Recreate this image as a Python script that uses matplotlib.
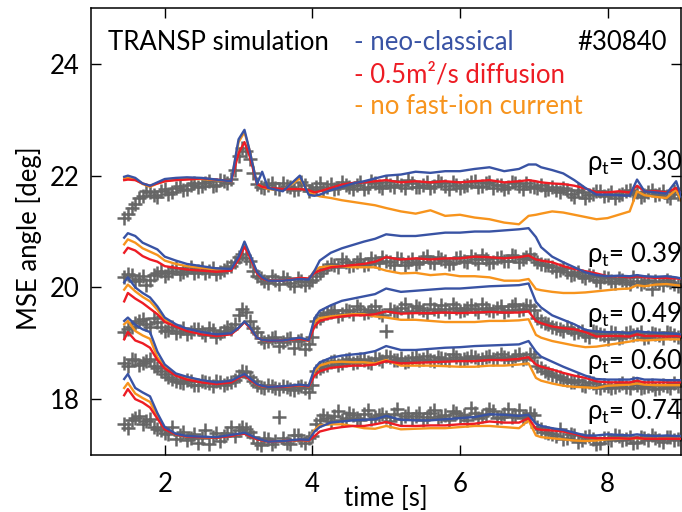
import matplotlib
matplotlib.use("Agg")
import matplotlib.pyplot as plt

plt.rcParams['font.family'] = ['Lato', 'DejaVu Sans']
plt.rcParams['mathtext.fontset'] = 'custom'
plt.rcParams['mathtext.rm'] = 'Lato'
plt.rcParams['mathtext.it'] = 'Lato'

# time base of the TRANSP lines [s]
t_line = [1.45, 1.5, 1.6, 1.7, 1.8, 1.9, 2.0, 2.15, 2.3, 2.5,
          2.7, 2.9, 3.0, 3.08, 3.15, 3.25, 3.32, 3.4, 3.6, 3.83,
          3.95, 4.03, 4.1, 4.25, 4.4, 4.55, 4.7, 4.85, 5.0, 5.2,
          5.4, 5.6, 5.8, 6.0, 6.2, 6.4, 6.6, 6.8, 6.93, 7.03,
          7.1, 7.25, 7.4, 7.55, 7.7, 7.85, 8.0, 8.15, 8.3, 8.4,
          8.5, 8.65, 8.8, 8.93, 9.0]

# rho_t = 0.30
b30 = [21.98, 22.0, 21.96, 21.86, 21.82, 21.88, 21.94, 21.96, 21.97, 21.96,
       21.93, 21.9, 22.65, 22.82, 22.45, 21.85, 22.07, 21.78, 21.72, 22.0,
       21.66, 21.64, 21.66, 21.74, 21.8, 21.86, 21.9, 21.95, 22.0, 22.02,
       22.07, 22.05, 22.08, 22.08, 22.12, 22.15, 22.08, 22.12, 22.2, 22.2,
       22.15, 22.1, 22.04, 21.92, 21.78, 21.66, 21.66, 21.65, 21.64, 21.93,
       21.72, 21.7, 21.68, 21.9, 21.62]
r30 = [21.92, 21.93, 21.92, 21.86, 21.82, 21.86, 21.9, 21.92, 21.93, 21.95,
       21.93, 21.9, 22.4, 22.6, 22.35, 21.85, 21.8, 21.78, 21.76, 21.76,
       21.74, 21.7, 21.72, 21.78, 21.84, 21.87, 21.88, 21.9, 21.92, 21.88,
       21.9, 21.88, 21.9, 21.88, 21.9, 21.92, 21.88, 21.9, 21.92, 21.9,
       21.88, 21.86, 21.85, 21.82, 21.77, 21.7, 21.7, 21.72, 21.7, 21.82,
       21.72, 21.72, 21.7, 21.78, 21.68]
o30 = [21.95, 21.96, 21.93, 21.85, 21.8, 21.86, 21.9, 21.93, 21.94, 21.94,
       21.92, 21.9, 22.6, 22.78, 22.45, 21.85, 21.8, 21.76, 21.74, 21.95,
       21.7, 21.66, 21.63, 21.6, 21.56, 21.53, 21.5, 21.47, 21.42, 21.36,
       21.32, 21.38, 21.28, 21.3, 21.25, 21.22, 21.16, 21.13, 21.28, 21.3,
       21.32, 21.36, 21.34, 21.3, 21.26, 21.22, 21.24, 21.3, 21.36, 21.72,
       21.65, 21.62, 21.6, 21.75, 21.55]

# rho_t = 0.39
b39 = [20.89, 20.97, 20.92, 20.8, 20.74, 20.68, 20.55, 20.48, 20.42, 20.38,
       20.34, 20.33, 20.55, 20.82, 20.6, 20.28, 20.18, 20.12, 20.12, 20.15,
       20.14, 20.3, 20.48, 20.62, 20.7, 20.76, 20.82, 20.87, 20.95, 20.92,
       20.92, 20.95, 20.98, 20.98, 21.0, 21.0, 21.02, 21.04, 21.06, 20.9,
       20.72, 20.55, 20.45, 20.36, 20.27, 20.22, 20.2, 20.21, 20.2, 20.22,
       20.2, 20.19, 20.2, 20.18, 20.16]
r39 = [20.62, 20.71, 20.66, 20.56, 20.5, 20.46, 20.38, 20.35, 20.32, 20.3,
       20.28, 20.3, 20.5, 20.73, 20.55, 20.25, 20.16, 20.12, 20.12, 20.17,
       20.16, 20.26, 20.3, 20.36, 20.38, 20.4, 20.42, 20.46, 20.54, 20.5,
       20.52, 20.5, 20.52, 20.52, 20.55, 20.54, 20.52, 20.54, 20.57, 20.5,
       20.48, 20.45, 20.38, 20.33, 20.29, 20.25, 20.2, 20.2, 20.18, 20.2,
       20.18, 20.17, 20.17, 20.16, 20.15]
o39 = [20.77, 20.86, 20.8, 20.7, 20.64, 20.58, 20.48, 20.42, 20.38, 20.35,
       20.32, 20.32, 20.52, 20.78, 20.58, 20.26, 20.17, 20.12, 20.12, 20.16,
       20.15, 20.3, 20.36, 20.38, 20.38, 20.36, 20.36, 20.36, 20.3, 20.25,
       20.26, 20.22, 20.24, 20.2, 20.2, 20.18, 20.12, 20.12, 20.15, 19.97,
       19.95, 19.92, 19.9, 19.9, 19.91, 19.93, 19.95, 19.97, 19.98, 20.04,
       20.02, 20.05, 20.06, 20.04, 20.03]

# rho_t = 0.49
b49 = [20.09, 20.18, 20.0, 19.9, 19.82, 19.66, 19.46, 19.34, 19.26, 19.2,
       19.16, 19.18, 19.28, 19.39, 19.3, 19.1, 19.06, 19.05, 19.05, 19.1,
       19.06, 19.45, 19.58, 19.68, 19.76, 19.8, 19.84, 19.88, 19.98, 19.92,
       19.94, 19.96, 19.98, 19.98, 20.0, 20.02, 20.03, 20.04, 20.07, 19.74,
       19.64, 19.5, 19.42, 19.34, 19.24, 19.21, 19.2, 19.2, 19.18, 19.22,
       19.2, 19.19, 19.18, 19.17, 19.16]
r49 = [19.75, 19.9, 19.8, 19.72, 19.62, 19.52, 19.38, 19.3, 19.22, 19.16,
       19.13, 19.16, 19.27, 19.38, 19.28, 19.1, 19.06, 19.04, 19.05, 19.08,
       19.05, 19.3, 19.4, 19.45, 19.48, 19.5, 19.5, 19.52, 19.57, 19.53,
       19.54, 19.54, 19.55, 19.54, 19.55, 19.56, 19.55, 19.55, 19.57, 19.4,
       19.36, 19.3, 19.27, 19.25, 19.2, 19.12, 19.13, 19.13, 19.12, 19.16,
       19.13, 19.13, 19.12, 19.13, 19.12]
o49 = [19.96, 20.05, 19.93, 19.83, 19.75, 19.6, 19.42, 19.32, 19.24, 19.18,
       19.14, 19.17, 19.27, 19.38, 19.29, 19.1, 19.06, 19.04, 19.05, 19.09,
       19.05, 19.38, 19.45, 19.48, 19.5, 19.52, 19.52, 19.48, 19.46, 19.42,
       19.42, 19.4, 19.38, 19.38, 19.38, 19.4, 19.4, 19.41, 19.43, 19.15,
       19.1, 19.04, 19.0, 18.96, 18.93, 18.94, 18.97, 19.0, 19.03, 19.06,
       19.05, 19.06, 19.07, 19.07, 19.07]

# rho_t = 0.60
b60 = [19.4, 19.46, 19.33, 19.25, 19.2, 18.85, 18.62, 18.46, 18.4, 18.34,
       18.3, 18.33, 18.4, 18.45, 18.38, 18.27, 18.24, 18.22, 18.23, 18.26,
       18.24, 18.55, 18.66, 18.74, 18.78, 18.8, 18.82, 18.86, 18.95, 18.88,
       18.88, 18.9, 18.92, 18.93, 18.95, 18.96, 18.97, 18.98, 19.04, 18.85,
       18.76, 18.67, 18.58, 18.5, 18.42, 18.36, 18.35, 18.35, 18.35, 18.38,
       18.35, 18.35, 18.34, 18.34, 18.34]
r60 = [19.07, 19.2, 19.05, 19.0, 18.92, 18.7, 18.55, 18.42, 18.35, 18.3,
       18.27, 18.3, 18.38, 18.43, 18.35, 18.26, 18.23, 18.22, 18.22, 18.25,
       18.23, 18.42, 18.5, 18.56, 18.58, 18.6, 18.6, 18.62, 18.68, 18.64,
       18.65, 18.66, 18.67, 18.68, 18.68, 18.7, 18.7, 18.72, 18.75, 18.62,
       18.58, 18.53, 18.47, 18.42, 18.38, 18.32, 18.3, 18.3, 18.3, 18.33,
       18.3, 18.3, 18.3, 18.3, 18.3]
o60 = [19.34, 19.4, 19.22, 19.14, 19.08, 18.75, 18.58, 18.44, 18.37, 18.32,
       18.29, 18.32, 18.39, 18.44, 18.36, 18.26, 18.23, 18.22, 18.22, 18.25,
       18.23, 18.5, 18.6, 18.66, 18.67, 18.66, 18.66, 18.64, 18.7, 18.6,
       18.6, 18.6, 18.59, 18.58, 18.58, 18.6, 18.6, 18.62, 18.64, 18.38,
       18.33, 18.28, 18.24, 18.22, 18.21, 18.2, 18.24, 18.25, 18.26, 18.28,
       18.26, 18.25, 18.25, 18.25, 18.25]

# rho_t = 0.74
b74 = [18.36, 18.45, 18.2, 18.12, 18.05, 17.75, 17.5, 17.38, 17.34, 17.33,
       17.32, 17.36, 17.38, 17.4, 17.36, 17.3, 17.27, 17.24, 17.25, 17.28,
       17.27, 17.42, 17.5, 17.58, 17.6, 17.62, 17.63, 17.64, 17.7, 17.63,
       17.62, 17.62, 17.64, 17.66, 17.68, 17.73, 17.72, 17.7, 17.72, 17.56,
       17.52, 17.48, 17.45, 17.4, 17.35, 17.35, 17.37, 17.36, 17.35, 17.37,
       17.35, 17.34, 17.35, 17.34, 17.34]
r74 = [18.07, 18.18, 18.0, 17.94, 17.85, 17.65, 17.46, 17.37, 17.33, 17.32,
       17.31, 17.34, 17.37, 17.38, 17.34, 17.28, 17.26, 17.24, 17.25, 17.27,
       17.26, 17.34, 17.42, 17.47, 17.5, 17.52, 17.52, 17.55, 17.59, 17.52,
       17.52, 17.53, 17.53, 17.55, 17.56, 17.6, 17.58, 17.58, 17.66, 17.47,
       17.45, 17.44, 17.42, 17.38, 17.32, 17.3, 17.3, 17.3, 17.29, 17.31,
       17.29, 17.29, 17.29, 17.29, 17.29]
o74 = [18.2, 18.29, 18.1, 18.02, 17.95, 17.7, 17.48, 17.37, 17.33, 17.32,
       17.31, 17.35, 17.37, 17.39, 17.35, 17.29, 17.26, 17.24, 17.25, 17.27,
       17.26, 17.45, 17.53, 17.55, 17.55, 17.52, 17.48, 17.47, 17.52, 17.46,
       17.47, 17.48, 17.48, 17.5, 17.52, 17.52, 17.5, 17.48, 17.62, 17.35,
       17.32, 17.3, 17.28, 17.26, 17.25, 17.26, 17.28, 17.29, 17.29, 17.3,
       17.29, 17.29, 17.29, 17.29, 17.29]

# measured MSE angles, first set of time points
t_mse = [1.45, 1.55, 1.65, 1.75, 1.85, 1.95, 2.05, 2.15, 2.25, 2.35,
         2.45, 2.55, 2.65, 2.75, 2.85, 2.95, 3.05, 3.15, 3.25, 3.35,
         3.45, 3.55, 3.65, 3.75, 3.85, 3.95, 4.05, 4.15, 4.25, 4.35,
         4.45, 4.55, 4.65, 4.75, 4.85, 4.95, 5.05, 5.15, 5.25, 5.35,
         5.45, 5.55, 5.65, 5.75, 5.85, 5.95, 6.05, 6.15, 6.25, 6.35,
         6.45, 6.55, 6.65, 6.75, 6.85, 6.95, 7.05, 7.15, 7.25, 7.35,
         7.45, 7.55, 7.65, 7.75, 7.85, 7.95, 8.05, 8.15, 8.25, 8.35,
         8.45, 8.55, 8.65, 8.75, 8.85, 8.95]
m30 = [21.25, 21.42, 21.6, 21.72, 21.66, 21.72, 21.68, 21.78, 21.74, 21.84,
       21.8, 21.86, 21.82, 21.92, 21.86, 22.1, 22.5, 22.3, 21.85, 21.78,
       21.86, 21.76, 21.82, 21.74, 21.88, 21.72, 21.8, 21.74, 21.85, 21.78,
       21.84, 21.76, 21.88, 21.8, 21.86, 21.78, 21.84, 21.9, 21.78, 21.86,
       21.8, 21.88, 21.82, 21.86, 21.76, 21.84, 21.82, 21.88, 21.8, 21.86,
       21.78, 21.84, 21.8, 21.86, 21.76, 21.82, 21.78, 21.74, 21.8, 21.7,
       21.74, 21.62, 21.7, 21.66, 21.72, 21.64, 21.7, 21.66, 21.72, 21.68,
       21.62, 21.7, 21.66, 21.72, 21.6, 21.68]
m39 = [20.18, 20.22, 20.15, 20.05, 20.22, 20.3, 20.26, 20.34, 20.28, 20.36,
       20.3, 20.26, 20.34, 20.28, 20.36, 20.45, 20.6, 20.48, 20.2, 20.12,
       20.2, 20.06, 20.15, 20.02, 20.12, 20.1, 20.2, 20.32, 20.42, 20.36,
       20.46, 20.4, 20.5, 20.42, 20.48, 20.55, 20.45, 20.52, 20.4, 20.5,
       20.46, 20.56, 20.44, 20.5, 20.42, 20.52, 20.48, 20.56, 20.44, 20.5,
       20.46, 20.54, 20.48, 20.56, 20.5, 20.6, 20.46, 20.4, 20.36, 20.32,
       20.28, 20.24, 20.2, 20.22, 20.14, 20.18, 20.12, 20.16, 20.1, 20.18,
       20.06, 20.14, 20.12, 20.04, 20.1, 20.02]
m49 = [19.2, 19.3, 19.4, 19.34, 19.46, 19.3, 19.24, 19.18, 19.28, 19.2,
       19.26, 19.14, 19.24, 19.18, 19.3, 19.34, 19.62, 19.4, 19.2, 19.02,
       19.1, 18.96, 19.08, 18.92, 19.06, 18.98, 19.4, 19.5, 19.56, 19.48,
       19.6, 19.52, 19.62, 19.56, 19.66, 19.5, 19.62, 19.56, 19.7, 19.58,
       19.64, 19.54, 19.62, 19.68, 19.56, 19.64, 19.6, 19.68, 19.56, 19.64,
       19.58, 19.66, 19.6, 19.7, 19.62, 19.66, 19.45, 19.36, 19.3, 19.26,
       19.3, 19.18, 19.22, 19.12, 19.2, 19.14, 19.2, 19.1, 19.18, 19.14,
       19.2, 19.12, 19.16, 19.1, 19.18, 19.12]
m60 = [18.65, 18.72, 18.62, 18.68, 18.6, 18.5, 18.4, 18.32, 18.28, 18.32,
       18.26, 18.3, 18.24, 18.3, 18.28, 18.34, 18.5, 18.4, 18.26, 18.2,
       18.24, 18.18, 18.22, 18.16, 18.24, 18.12, 18.5, 18.6, 18.66, 18.62,
       18.7, 18.64, 18.72, 18.66, 18.74, 18.68, 18.76, 18.7, 18.66, 18.74,
       18.7, 18.78, 18.68, 18.74, 18.7, 18.76, 18.72, 18.78, 18.7, 18.76,
       18.72, 18.8, 18.74, 18.78, 18.72, 18.8, 18.6, 18.5, 18.44, 18.4,
       18.34, 18.3, 18.26, 18.3, 18.22, 18.26, 18.2, 18.26, 18.22, 18.28,
       18.2, 18.24, 18.18, 18.26, 18.2, 18.24]
m74 = [17.55, 17.62, 17.7, 17.6, 17.5, 17.45, 17.38, 17.28, 17.42, 17.3,
       17.22, 17.45, 17.32, 17.25, 17.4, 17.34, 17.5, 17.42, 17.22, 17.3,
       17.2, 17.68, 17.22, 17.35, 17.26, 17.3, 17.55, 17.72, 17.6, 17.78,
       17.66, 17.72, 17.62, 17.8, 17.68, 17.74, 17.6, 17.82, 17.7, 17.64,
       17.76, 17.68, 17.8, 17.7, 17.62, 17.76, 17.72, 17.84, 17.66, 17.74,
       17.78, 17.68, 17.82, 17.72, 17.66, 17.76, 17.5, 17.42, 17.38, 17.46,
       17.3, 17.36, 17.26, 17.34, 17.2, 17.3, 17.26, 17.34, 17.28, 17.22,
       17.32, 17.26, 17.3, 17.24, 17.32, 17.28]

# measured MSE angles, second set of time points
t_mse2 = [1.5, 1.6, 1.7, 1.8, 1.9, 2.0, 2.1, 2.2, 2.3, 2.4,
          2.5, 2.6, 2.7, 2.8, 2.9, 3.0, 3.1, 3.2, 3.3, 3.4,
          3.5, 3.6, 3.7, 3.8, 3.9, 4.0, 4.1, 4.2, 4.3, 4.4,
          4.5, 4.6, 4.7, 4.8, 4.9, 5.0, 5.1, 5.2, 5.3, 5.4,
          5.5, 5.6, 5.7, 5.8, 5.9, 6.0, 6.1, 6.2, 6.3, 6.4,
          6.5, 6.6, 6.7, 6.8, 6.9, 7.0, 7.1, 7.2, 7.3, 7.4,
          7.5, 7.6, 7.7, 7.8, 7.9, 8.0, 8.1, 8.2, 8.3, 8.4,
          8.5, 8.6, 8.7, 8.8, 8.9]
m30b = [21.32, 21.5, 21.64, 21.7, 21.62, 21.76, 21.7, 21.82, 21.76, 21.86,
        21.82, 21.9, 21.84, 21.9, 21.94, 22.35, 22.45, 22.05, 21.8, 21.84,
        21.78, 21.86, 21.8, 21.76, 21.84, 21.76, 21.86, 21.8, 21.76, 21.88,
        21.8, 21.84, 21.76, 21.9, 21.82, 21.88, 21.8, 21.84, 21.92, 21.8,
        21.84, 21.78, 21.9, 21.82, 21.88, 21.78, 21.84, 21.9, 21.82, 21.88,
        21.84, 21.76, 21.88, 21.82, 21.86, 21.8, 21.84, 21.76, 21.74, 21.78,
        21.68, 21.74, 21.6, 21.68, 21.72, 21.66, 21.6, 21.68, 21.74, 21.7,
        21.66, 21.74, 21.68, 21.64, 21.72]
m39b = [20.24, 20.12, 20.2, 20.14, 20.26, 20.2, 20.3, 20.24, 20.32, 20.26,
        20.34, 20.3, 20.24, 20.32, 20.38, 20.55, 20.52, 20.3, 20.16, 20.08,
        20.14, 20.18, 20.08, 20.16, 20.04, 20.14, 20.26, 20.36, 20.4, 20.5,
        20.38, 20.46, 20.4, 20.52, 20.44, 20.48, 20.4, 20.5, 20.46, 20.42,
        20.52, 20.46, 20.54, 20.48, 20.44, 20.54, 20.46, 20.5, 20.58, 20.44,
        20.52, 20.48, 20.58, 20.46, 20.54, 20.5, 20.42, 20.4, 20.3, 20.34,
        20.22, 20.28, 20.16, 20.2, 20.1, 20.16, 20.08, 20.14, 20.06, 20.12,
        20.1, 19.98, 20.08, 20.14, 20.06]
m49b = [19.26, 19.36, 19.44, 19.3, 19.38, 19.22, 19.3, 19.22, 19.16, 19.26,
        19.2, 19.28, 19.12, 19.22, 19.26, 19.5, 19.56, 19.28, 19.1, 19.04,
        19.12, 19.02, 19.1, 19.04, 18.9, 19.12, 19.46, 19.54, 19.6, 19.52,
        19.58, 19.66, 19.54, 19.6, 19.56, 19.22, 19.58, 19.64, 19.56, 19.66,
        19.6, 19.7, 19.58, 19.62, 19.7, 19.58, 19.64, 19.62, 19.7, 19.6,
        19.64, 19.56, 19.66, 19.6, 19.68, 19.6, 19.4, 19.34, 19.28, 19.22,
        19.26, 19.2, 19.14, 19.22, 19.16, 19.08, 19.18, 19.12, 19.2, 19.16,
        19.1, 19.18, 19.14, 19.2, 19.14]
m60b = [18.6, 18.7, 18.64, 18.72, 18.56, 18.45, 18.36, 18.3, 18.34, 18.26,
        18.32, 18.28, 18.32, 18.26, 18.3, 18.42, 18.48, 18.32, 18.22, 18.26,
        18.2, 18.24, 18.18, 18.22, 18.2, 18.26, 18.56, 18.62, 18.68, 18.64,
        18.72, 18.66, 18.7, 18.64, 18.72, 18.78, 18.7, 18.74, 18.68, 18.76,
        18.72, 18.7, 18.76, 18.72, 18.8, 18.7, 18.74, 18.76, 18.72, 18.78,
        18.74, 18.76, 18.7, 18.8, 18.74, 18.76, 18.56, 18.46, 18.42, 18.36,
        18.3, 18.34, 18.24, 18.28, 18.2, 18.24, 18.22, 18.28, 18.2, 18.26,
        18.22, 18.26, 18.2, 18.24, 18.28]
m74b = [17.48, 17.66, 17.56, 17.64, 17.46, 17.4, 17.5, 17.35, 17.26, 17.38,
        17.3, 17.2, 17.4, 17.34, 17.5, 17.44, 17.46, 17.32, 17.18, 17.28,
        17.25, 17.3, 17.2, 17.36, 17.22, 17.34, 17.62, 17.66, 17.7, 17.62,
        17.76, 17.66, 17.74, 17.64, 17.72, 17.68, 17.74, 17.64, 17.76, 17.7,
        17.62, 17.76, 17.66, 17.72, 17.78, 17.68, 17.62, 17.76, 17.7, 17.82,
        17.66, 17.74, 17.68, 17.8, 17.7, 17.72, 17.46, 17.4, 17.34, 17.28,
        17.38, 17.24, 17.32, 17.28, 17.22, 17.3, 17.36, 17.26, 17.32, 17.24,
        17.3, 17.36, 17.26, 17.32, 17.26]

rho_labels = ['0.30', '0.39', '0.49', '0.60', '0.74']
rho_label_y = [22.11, 20.45, 19.38, 18.54, 17.64]

meas = [m30, m39, m49, m60, m74]
meas2 = [m30b, m39b, m49b, m60b, m74b]
neo = [b30, b39, b49, b60, b74]
diff = [r30, r39, r49, r60, r74]
nofi = [o30, o39, o49, o60, o74]

c_neo = '#3953a4'
c_diff = '#ed1c24'
c_nofi = '#f7941d'
c_meas = '#666666'
fs = 18.5

fig = plt.figure(figsize=(6.82, 5.12), dpi=100)
ax = fig.add_axes([0.1334, 0.1113, 0.8656, 0.873])

for i in range(5):
    ax.plot(t_mse, meas[i], ls='none', marker='+', ms=10, mew=1.8, color=c_meas, zorder=1)
    ax.plot(t_mse2, meas2[i], ls='none', marker='+', ms=10, mew=1.8, color=c_meas, zorder=1)
    ax.plot(t_line, nofi[i], color=c_nofi, lw=1.7, zorder=2)
    ax.plot(t_line, diff[i], color=c_diff, lw=1.7, zorder=3)
    ax.plot(t_line, neo[i], color=c_neo, lw=1.7, zorder=4)
    ax.text(7.72, rho_label_y[i], 'ρ$_\\mathrm{t}$= ' + rho_labels[i], fontsize=fs,
            ha='left', va='baseline', family=['Lato', 'DejaVu Sans'], zorder=5)

ax.text(1.23, 24.39, 'TRANSP simulation', fontsize=fs, va='center', ha='left')
ax.text(4.57, 24.39, '- neo-classical', fontsize=fs, va='center', ha='left', color=c_neo)
ax.text(4.57, 23.8, '- 0.5m²/s diffusion', fontsize=fs, va='center', ha='left', color=c_diff)
ax.text(4.57, 23.23, '- no fast-ion current', fontsize=fs, va='center', ha='left', color=c_nofi)
ax.text(8.8, 24.39, '#30840', fontsize=fs, va='center', ha='right')

ax.set_xlim(1, 9)
ax.set_ylim(17, 25)
ax.set_xticks([2, 4, 6, 8])
ax.set_yticks([18, 20, 22, 24])
ax.tick_params(direction='in', length=7, width=1.0, top=True, right=True,
               labelsize=fs, pad=8)
ax.tick_params(axis='x', pad=12)
for s in ax.spines.values():
    s.set_linewidth(1.1)

ax.set_xlabel('time [s]', fontsize=fs, labelpad=-8)
ax.set_ylabel('MSE angle [deg]', fontsize=fs)
ax.yaxis.set_label_coords(-0.083, 0.485)

fig.savefig('out.png', dpi=100)
